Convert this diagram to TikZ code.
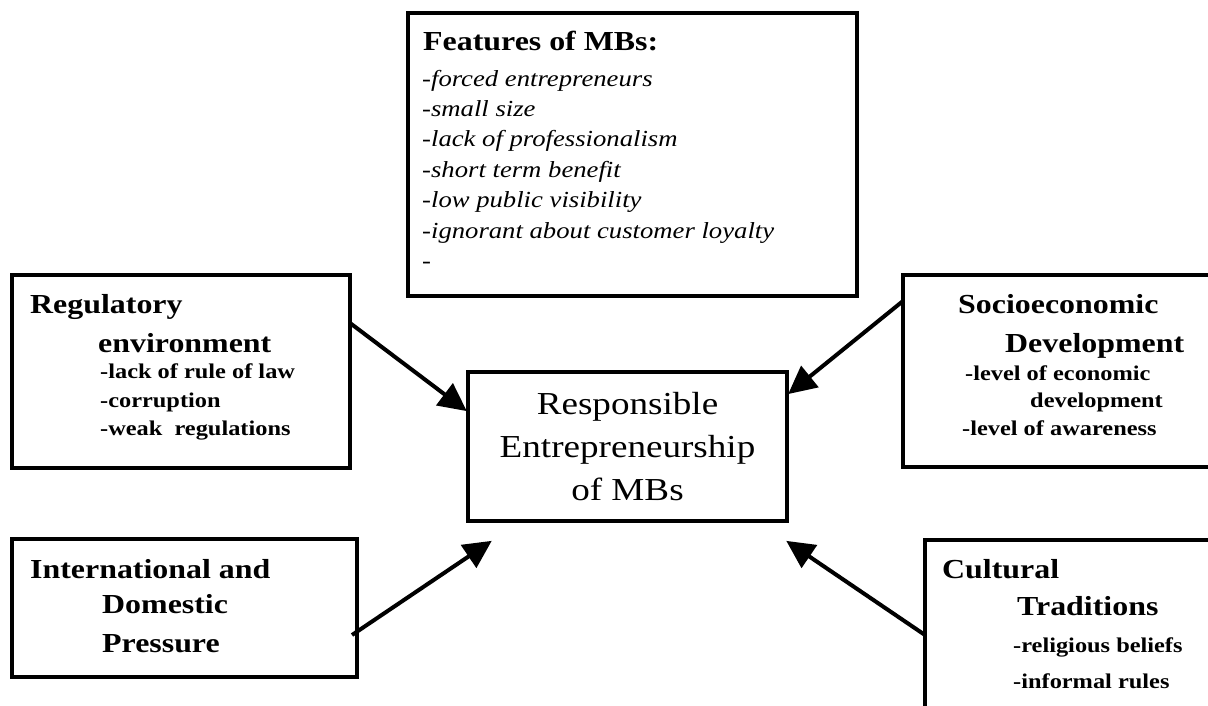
\documentclass[tikz,border=0pt]{standalone}
\usepackage{fontspec}
\setmainfont{Liberation Serif}[FakeStretch=1.16]
\usetikzlibrary{arrows.meta, positioning}

\begin{document}
\begin{tikzpicture}[x=1pt, y=-1pt,
            box/.style={draw, rectangle, line width=4pt, outer sep=0pt, inner sep=0pt, anchor=north west},
            head/.style={anchor=base west, inner sep=0pt, font=\bfseries\fontsize{27.5}{30}\selectfont},
            item/.style={anchor=base west, inner sep=0pt, font=\bfseries\fontsize{21}{24}\selectfont},
            feat/.style={anchor=base west, inner sep=0pt, font=\itshape\fontsize{23}{26}\selectfont},
            arr/.style={-{Triangle[length=28pt, width=27pt]}, line width=4pt, shorten >=1.5pt}
        ]

        \useasboundingbox (0,0) rectangle (1208,705);
        \clip (0,0) rectangle (1208,705);

        % Boxes (manual layout to match figure)
        \node[box, minimum width=449pt, minimum height=283pt] (feat) at (408,13) {};
        \node[box, minimum width=338pt, minimum height=193pt] (reg) at (12,275) {};
        \node[box, minimum width=337pt, minimum height=192pt] (soc) at (903,275) {};
        \node[box, minimum width=345pt, minimum height=138pt] (int) at (12,539) {};
        \node[box, minimum width=315pt, minimum height=190pt] (cult) at (925,540) {};
        \node[box, anchor=center, minimum width=319pt, minimum height=149pt,
              align=center, font=\fontsize{32}{43}\selectfont] (centre) at (627.5,446.5)
              {Responsible\\Entrepreneurship\\of MBs};

        % Texts
        \node[head] (feat-h) at (423,50) {Features of MBs:};
        \foreach \ttext [count=\i] in {-forced entrepreneurs, -small size,
                -lack of professionalism, -short term benefit, -low public visibility,
                -ignorant about customer loyalty, -}
            \node[feat] (feat-\i) at (422,{86+30.4*(\i-1)}) {\ttext};

        \foreach \tx/\ty/\ttext [count=\i] in {30/313/Regulatory, 98/352/environment}
            \node[head] (reg-h\i) at (\tx,\ty) {\ttext};
        \foreach \tx/\ty/\ttext [count=\i] in {100/378/-lack of rule of law,
                100/407/-corruption, 100/435/-weak\ \ regulations}
            \node[item] (reg-\i) at (\tx,\ty) {\ttext};

        \foreach \tx/\ty/\ttext [count=\i] in {958/313/Socioeconomic, 1005/352/Development}
            \node[head] (soc-h\i) at (\tx,\ty) {\ttext};
        \foreach \tx/\ty/\ttext [count=\i] in {965/380/-level of economic,
                1030/407/development, 962/435/-level of awareness}
            \node[item] (soc-\i) at (\tx,\ty) {\ttext};

        \foreach \tx/\ty/\ttext [count=\i] in {30/578/International and,
                102/613/Domestic, 102/652/Pressure}
            \node[head] (int-h\i) at (\tx,\ty) {\ttext};

        \foreach \tx/\ty/\ttext [count=\i] in {942/578/Cultural, 1017/615/Traditions}
            \node[head] (cult-h\i) at (\tx,\ty) {\ttext};
        \foreach \tx/\ty/\ttext [count=\i] in {1013/652/-religious beliefs,
                1013/688/-informal rules}
            \node[item] (cult-\i) at (\tx,\ty) {\ttext};

        % Arrows
        \draw[arr] ([yshift=48.5pt]reg.east) -- ([yshift=34.5pt]centre.west);
        \draw[arr] ([yshift=70pt]soc.west) -- ([yshift=51.5pt]centre.east);
        \draw[arr] ([shift={(-5pt,-27pt)}]int.east) -- ([shift={(-134.5pt,-19pt)}]centre.south);
        \draw[arr] (cult.west) -- ([shift={(157.5pt,-19pt)}]centre.south);

    \end{tikzpicture}
\end{document}
